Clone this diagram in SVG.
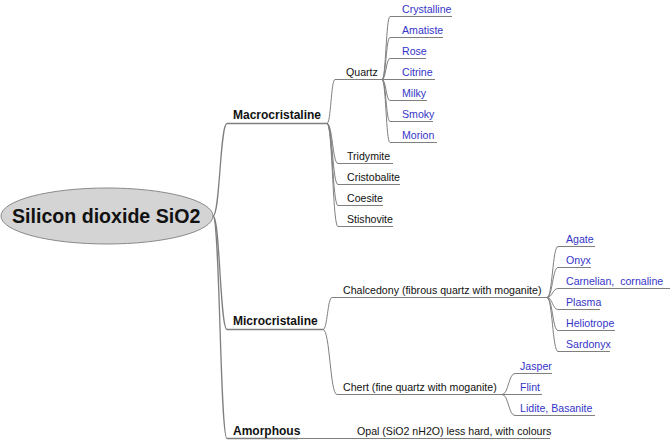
<svg xmlns="http://www.w3.org/2000/svg" width="670" height="440" viewBox="0 0 670 440">
<style>
.e{fill:none;stroke:#7f7f7f;stroke-width:1}
.m{fill:none;stroke:#7f7f7f;stroke-width:1.3}
.t{font-family:"Liberation Sans",Arial,sans-serif;font-size:10.6px;fill:#111}
.b{font-family:"Liberation Sans",Arial,sans-serif;font-size:12px;font-weight:bold;fill:#111}
.l{font-family:"Liberation Sans",Arial,sans-serif;font-size:10.6px;fill:#3535c8}
.r{font-family:"Liberation Sans",Arial,sans-serif;font-size:19.6px;font-weight:bold;fill:#111}
</style>
<rect width="670" height="440" fill="#fff"/>
<g id="connectors">
<path class="m" d="M213,216 C220,216 220,123.5 227,123.5"/>
<path class="m" d="M213,216 C220,216 220,329.5 227,329.5"/>
<path class="m" d="M213,216 C220,216 220,438.5 227,438.5"/>
<path class="e" d="M327,123.5 C331,123.5 331,79.5 335,79.5"/>
<path class="e" d="M327,123.5 C332.5,123.5 332.5,163.5 338,163.5"/>
<path class="e" d="M327,123.5 C332.5,123.5 332.5,184.5 338,184.5"/>
<path class="e" d="M327,123.5 C332.5,123.5 332.5,205.5 338,205.5"/>
<path class="e" d="M327,123.5 C332.5,123.5 332.5,226.5 338,226.5"/>
<path class="e" d="M382,79.5 C386,79.5 386,16.5 390,16.5"/>
<path class="e" d="M382,79.5 C386,79.5 386,37.5 390,37.5"/>
<path class="e" d="M382,79.5 C386,79.5 386,58.5 390,58.5"/>
<path class="e" d="M382,79.5 L390,79.5"/>
<path class="e" d="M382,79.5 C386,79.5 386,100.5 390,100.5"/>
<path class="e" d="M382,79.5 C386,79.5 386,121.5 390,121.5"/>
<path class="e" d="M382,79.5 C386,79.5 386,142.5 390,142.5"/>
<path class="e" d="M323,329.5 C327.5,329.5 327.5,297.5 332,297.5"/>
<path class="e" d="M323,329.5 C330,329.5 330,394.5 337,394.5"/>
<path class="e" d="M547,297.5 C552.5,297.5 552.5,246.5 558,246.5"/>
<path class="e" d="M547,297.5 C552.5,297.5 552.5,267.5 558,267.5"/>
<path class="e" d="M547,297.5 C552.5,297.5 552.5,288.5 558,288.5"/>
<path class="e" d="M547,297.5 C552.5,297.5 552.5,309.5 558,309.5"/>
<path class="e" d="M547,297.5 C552.5,297.5 552.5,330.5 558,330.5"/>
<path class="e" d="M547,297.5 C552.5,297.5 552.5,351.5 558,351.5"/>
<path class="e" d="M502,394.5 C508.5,394.5 508.5,373.5 515,373.5"/>
<path class="e" d="M502,394.5 L515,394.5"/>
<path class="e" d="M502,394.5 C508.5,394.5 508.5,415.5 515,415.5"/>
<path class="e" d="M298,438.5 L357,438.5"/>
</g>
<g id="root">
<ellipse cx="107" cy="216" rx="106" ry="28" fill="#d4d4d4" stroke="#8a8a8a" stroke-width="1"/>
<text class="r" x="12" y="223">Silicon dioxide SiO2</text>
</g>
<g id="macrocristaline"><path class="m" d="M227,123.5 H327"/><text class="b" x="233" y="119">Macrocristaline</text></g>
<g id="microcristaline"><path class="m" d="M227,329.5 H323"/><text class="b" x="233" y="325">Microcristaline</text></g>
<g id="amorphous"><path class="m" d="M227,438.5 H298"/><text class="b" x="233" y="435">Amorphous</text></g>
<g id="quartz"><path class="e" d="M335,79.5 H382"/><text class="t" x="346" y="76">Quartz</text></g>
<g id="tridymite"><path class="e" d="M338,163.5 H393"/><text class="t" x="347" y="160">Tridymite</text></g>
<g id="cristobalite"><path class="e" d="M338,184.5 H400"/><text class="t" x="347" y="181">Cristobalite</text></g>
<g id="coesite"><path class="e" d="M338,205.5 H383"/><text class="t" x="347" y="202">Coesite</text></g>
<g id="stishovite"><path class="e" d="M338,226.5 H393"/><text class="t" x="347" y="223">Stishovite</text></g>
<g id="crystalline"><path class="e" d="M390,16.5 H452"/><text class="l" x="402" y="13">Crystalline</text></g>
<g id="amatiste"><path class="e" d="M390,37.5 H443"/><text class="l" x="402" y="34">Amatiste</text></g>
<g id="rose"><path class="e" d="M390,58.5 H426"/><text class="l" x="402" y="55">Rose</text></g>
<g id="citrine"><path class="e" d="M390,79.5 H435"/><text class="l" x="402" y="76">Citrine</text></g>
<g id="milky"><path class="e" d="M390,100.5 H427"/><text class="l" x="402" y="97">Milky</text></g>
<g id="smoky"><path class="e" d="M390,121.5 H433"/><text class="l" x="402" y="118">Smoky</text></g>
<g id="morion"><path class="e" d="M390,142.5 H437"/><text class="l" x="402" y="139">Morion</text></g>
<g id="chalcedony"><path class="e" d="M332,297.5 H547"/><text class="t" x="343" y="294">Chalcedony (fibrous quartz with moganite)</text></g>
<g id="agate"><path class="e" d="M558,246.5 H595"/><text class="l" x="566" y="243">Agate</text></g>
<g id="onyx"><path class="e" d="M558,267.5 H591"/><text class="l" x="566" y="264">Onyx</text></g>
<g id="carnelian"><path class="e" d="M558,288.5 H670"/><text class="l" x="566" y="285">Carnelian,&#160; cornaline</text></g>
<g id="plasma"><path class="e" d="M558,309.5 H600"/><text class="l" x="566" y="306">Plasma</text></g>
<g id="heliotrope"><path class="e" d="M558,330.5 H615"/><text class="l" x="566" y="327">Heliotrope</text></g>
<g id="sardonyx"><path class="e" d="M558,351.5 H610"/><text class="l" x="566" y="348">Sardonyx</text></g>
<g id="chert"><path class="e" d="M337,394.5 H502"/><text class="t" x="343" y="391">Chert (fine quartz with moganite)</text></g>
<g id="jasper"><path class="e" d="M515,373.5 H552"/><text class="l" x="520" y="370">Jasper</text></g>
<g id="flint"><path class="e" d="M515,394.5 H542"/><text class="l" x="520" y="391">Flint</text></g>
<g id="lidite"><path class="e" d="M515,415.5 H595"/><text class="l" x="520" y="412">Lidite, Basanite</text></g>
<g id="opal"><path class="e" d="M357,438.5 H550"/><text class="t" x="357" y="435">Opal (SiO2 nH2O) less hard, with colours</text></g>
</svg>
